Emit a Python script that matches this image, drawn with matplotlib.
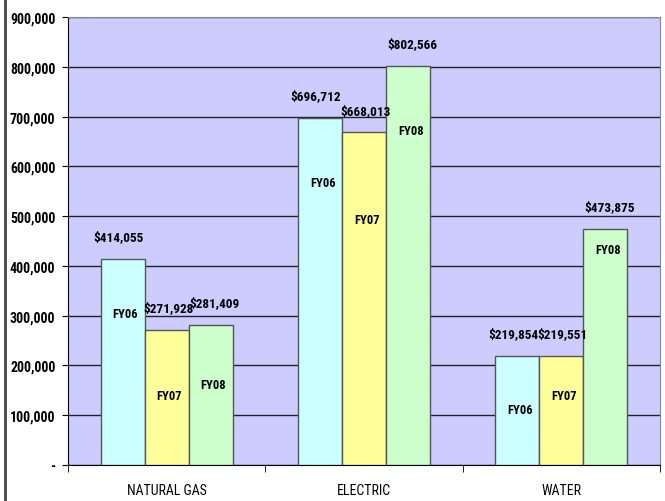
import numpy as np
import matplotlib.pyplot as plt
from matplotlib.ticker import FuncFormatter
from matplotlib.lines import Line2D

plt.rcParams['font.family'] = ['Roboto Condensed', 'PT Sans Narrow', 'DejaVu Sans']

categories = ['NATURAL GAS', 'ELECTRIC', 'WATER']
series = ['FY06', 'FY07', 'FY08']
fy06 = [414055, 696712, 219854]
fy07 = [271928, 668013, 219551]
fy08 = [281409, 802566, 473875]
# heights where the FYxx series names sit inside the bars
name_y = {
    'FY06': [305000, 568000, 112000],
    'FY07': [139000, 494000, 139000],
    'FY08': [161000, 671000, 432000],
}
yticks = np.arange(0, 900001, 100000)

colors = ['#CCFFFF', '#FFFF99', '#CCFFCC']
values = [fy06, fy07, fy08]
label_dx = [-3, 1, 3]

fig = plt.figure(figsize=[6.65, 5.02], dpi=100)
ax = fig.add_axes([68/665, 36/502, 592/665, 448/502])
ax.set_facecolor('#CCCCFF')

x = np.arange(len(categories))
w = 0.223
for i, (name, vals) in enumerate(zip(series, values)):
    pos = x + (i - 1) * w
    ax.bar(pos, vals, w, color=colors[i], edgecolor='#555555', linewidth=1, zorder=3)
    for p, v, ny in zip(pos, vals, name_y[name]):
        ax.annotate('${:,}'.format(v), (p, v), xytext=(label_dx[i], 16), textcoords='offset points',
                    ha='center', va='center', fontsize=9.5, fontweight='bold', zorder=4)
        ax.annotate(name, (p, ny), xytext=(2, 0), textcoords='offset points',
                    ha='center', va='center', fontsize=9, fontweight='bold', zorder=4)

ax.set_xlim(-0.5, 2.5)
ax.set_ylim(0, 900000)
ax.set_yticks(yticks)
ax.yaxis.set_major_formatter(FuncFormatter(lambda v, p: '-' if v == 0 else '{:,.0f}'.format(v)))
ax.yaxis.grid(True, color='#222222', linewidth=1, zorder=0)
ax.set_axisbelow(True)
for lbl in ax.get_yticklabels():
    lbl.set_fontweight('bold')
ax.tick_params(axis='y', labelsize=10, length=4, direction='out', pad=5)

ax.set_xticks(x)
ax.set_xticklabels(categories, fontsize=10)
ax.set_xticks([-0.5, 0.5, 1.5, 2.5], minor=True)
ax.tick_params(axis='x', which='major', length=0, pad=13)
ax.tick_params(axis='x', which='minor', length=5, direction='out')

ax.spines['left'].set_color('black')
ax.spines['bottom'].set_color('black')
ax.spines['top'].set_color('#888888')
ax.spines['right'].set_color('#888888')

fig.add_artist(Line2D([5/665, 5/665], [0, 1], color='#444444', linewidth=2))

fig.savefig('out.png', dpi=100)
